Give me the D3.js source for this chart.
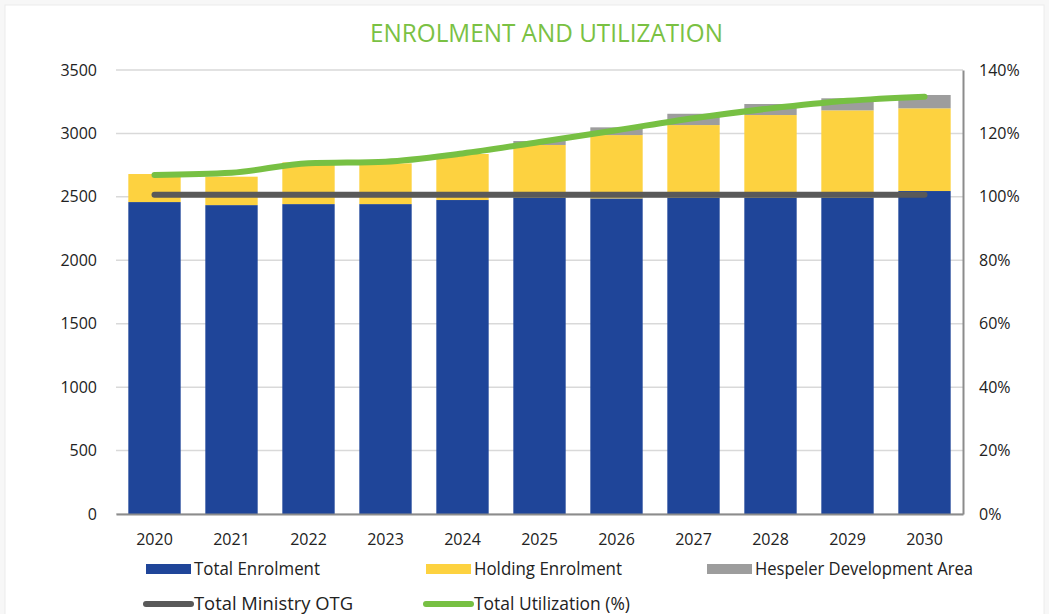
<!DOCTYPE html>
<html>
<head>
<meta charset="utf-8">
<script src="https://cdn.jsdelivr.net/npm/d3@7"></script>
<style>
  body { margin: 0; background: #f7f7f7; }
  .tick text { fill: #222; }
</style>
</head>
<body>
<div id="chart"></div>
<script>
// chart data
const years = ["2020","2021","2022","2023","2024","2025","2026","2027","2028","2029","2030"];
const totalEnrolment = [2459, 2435, 2443, 2443, 2475, 2495, 2488, 2495, 2495, 2495, 2546];
const holdingEnrolment = [221, 224, 329, 321, 363, 414, 499, 571, 650, 687, 652];
const hespelerArea = [0, 0, 0, 0, 0, 31, 61, 89, 87, 95, 105];
const ministryOTG = [2517, 2517, 2517, 2517, 2517, 2517, 2517, 2517, 2517, 2517, 2517];
const utilization = [106.9, 107.6, 110.6, 111.1, 113.7, 117.3, 121.0, 124.8, 127.9, 130.3, 131.6];
const leftTicks = [0, 500, 1000, 1500, 2000, 2500, 3000, 3500];
const rightTicks = [0, 20, 40, 60, 80, 100, 120, 140];

const width = 1049, height = 614;
const margin = {top: 70, right: 86, bottom: 100, left: 116};

const svg = d3.select("#chart")
  .append("svg")
  .attr("width", width)
  .attr("height", height);

// white card
svg.append("rect")
  .attr("x", 5).attr("y", 5)
  .attr("width", width - 10).attr("height", height)
  .attr("fill", "#fff")
  .attr("stroke", "#ececec");

svg.append("text")
  .attr("x", 370).attr("y", 42)
  .attr("font-family", "'Open Sans', sans-serif")
  .attr("font-size", "26px")
  .attr("fill", "#7ac143")
  .attr("textLength", 353)
  .attr("lengthAdjust", "spacingAndGlyphs")
  .text("ENROLMENT AND UTILIZATION");

const xScale = d3.scaleBand()
  .domain(years)
  .range([margin.left, width - margin.right])
  .paddingInner(0.32)
  .paddingOuter(0.16);

const yScale = d3.scaleLinear()
  .domain([0, 3500])
  .range([height - margin.bottom, margin.top]);

const yScale2 = d3.scaleLinear()
  .domain([0, 140])
  .range([height - margin.bottom, margin.top]);

// gridlines
svg.append("g")
  .selectAll("line")
  .data(leftTicks)
  .enter()
  .append("line")
    .attr("x1", margin.left)
    .attr("x2", width - margin.right)
    .attr("y1", d => yScale(d))
    .attr("y2", d => yScale(d))
    .attr("stroke", "#d9d9d9")
    .attr("stroke-width", 1.5);

// stacked bars
const rows = years.map((y, i) => ({
  year: y,
  total: totalEnrolment[i],
  holding: holdingEnrolment[i],
  hespeler: hespelerArea[i]
}));
const keys = ["total", "holding", "hespeler"];
const colors = {total: "#1f4599", holding: "#fdd240", hespeler: "#9d9d9d"};
const stacked = d3.stack().keys(keys)(rows);

svg.append("g")
  .selectAll("g")
  .data(stacked)
  .enter()
  .append("g")
    .attr("fill", d => colors[d.key])
  .selectAll("rect")
  .data(d => d)
  .enter()
  .append("rect")
    .attr("x", d => xScale(d.data.year))
    .attr("width", xScale.bandwidth())
    .attr("y", d => yScale(d[1]))
    .attr("height", d => yScale(d[0]) - yScale(d[1]));

// axes
const fontFam = "'Open Sans', sans-serif";
svg.append("g")
  .attr("transform", `translate(${margin.left - 6},0)`)
  .call(d3.axisLeft(yScale).tickValues(leftTicks).tickSize(0).tickPadding(13)
          .tickFormat(d3.format("d")))
  .attr("font-size", "16px")
  .attr("font-family", fontFam)
  .call(g => g.select(".domain").remove());

svg.append("g")
  .attr("transform", `translate(${width - margin.right},0)`)
  .call(d3.axisRight(yScale2).tickValues(rightTicks).tickSize(0).tickPadding(16)
          .tickFormat(d => d + "%"))
  .attr("font-size", "16px")
  .attr("font-family", fontFam)
  .call(g => g.select(".domain").attr("stroke", "#8c8c8c").attr("stroke-width", 2));

svg.append("g")
  .attr("transform", `translate(0,${height - margin.bottom})`)
  .call(d3.axisBottom(xScale).tickSize(0).tickPadding(20))
  .attr("font-size", "16px")
  .attr("font-family", fontFam)
  .call(g => g.select(".domain").attr("stroke", "#8c8c8c").attr("stroke-width", 2));

// lines
const cx = y => xScale(y) + xScale.bandwidth() / 2;

const otgLine = d3.line()
  .x((d, i) => cx(years[i]))
  .y(d => yScale(d));

svg.append("path")
  .datum(ministryOTG)
  .attr("d", otgLine)
  .attr("fill", "none")
  .attr("stroke", "#595959")
  .attr("stroke-width", 6)
  .attr("stroke-linecap", "round");

const utilLine = d3.line()
  .x((d, i) => cx(years[i]))
  .y(d => yScale2(d))
  .curve(d3.curveMonotoneX);

svg.append("path")
  .datum(utilization)
  .attr("d", utilLine)
  .attr("fill", "none")
  .attr("stroke", "#77c043")
  .attr("stroke-width", 6)
  .attr("stroke-linecap", "round");

// legend
const legendItems = [
  {label: "Total Enrolment", color: colors.total, type: "rect", x: 146, y: 569, w: 126},
  {label: "Holding Enrolment", color: colors.holding, type: "rect", x: 426, y: 569, w: 148},
  {label: "Hespeler Development Area", color: colors.hespeler, type: "rect", x: 707, y: 569, w: 218},
  {label: "Total Ministry OTG", color: "#595959", type: "line", x: 146, y: 604, w: 159},
  {label: "Total Utilization (%)", color: "#77c043", type: "line", x: 426, y: 604, w: 156}
];

const legend = svg.append("g")
  .selectAll("g")
  .data(legendItems)
  .enter()
  .append("g")
    .attr("transform", d => `translate(${d.x},${d.y})`);

legend.filter(d => d.type === "rect")
  .append("rect")
    .attr("x", 0).attr("y", -5)
    .attr("width", 45).attr("height", 10)
    .attr("fill", d => d.color);

legend.filter(d => d.type === "line")
  .append("line")
    .attr("x1", 0).attr("x2", 45)
    .attr("stroke", d => d.color)
    .attr("stroke-width", 6)
    .attr("stroke-linecap", "round");

legend.append("text")
  .attr("x", 48)
  .attr("dy", "0.35em")
  .attr("font-family", "'Open Sans', sans-serif")
  .attr("font-size", "18px")
  .attr("fill", "#222")
  .attr("textLength", d => d.w)
  .attr("lengthAdjust", "spacingAndGlyphs")
  .text(d => d.label);
</script>
</body>
</html>
